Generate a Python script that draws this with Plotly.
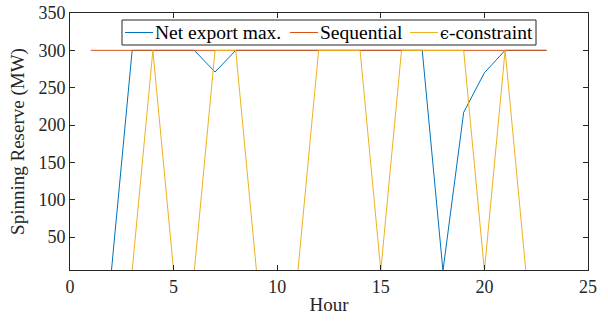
import plotly.graph_objects as go

hours = list(range(1, 24))
net_export_max = [5, 5, 300, 300, 300, 300, 271, 300, 300, 300, 300, 300,
                  300, 300, 300, 300, 300, 5, 217, 270, 300, 300, 300]
sequential = [300] * 23
eps_constraint = [5, 5, 5, 300, 5, 5, 300, 300, 5, 5, 5, 300,
                  300, 300, 5, 300, 300, 300, 300, 5, 300, 5, 5]

series_names = ["Net export max.", "Sequential",
                "<span style=\"font-family:'DejaVu Serif';font-size:16px\">ϵ</span>-constraint"]
series_colors = ["#0072BD", "#D95319", "#EDB120"]
series_values = [net_export_max, sequential, eps_constraint]

x_ticks = [0, 5, 10, 15, 20, 25]
y_ticks = [50, 100, 150, 200, 250, 300, 350]

FONT = "Liberation Serif, Times New Roman, serif"
AX = "#262626"

W, H = 608, 322
ML, MR, MT, MB = 70, 20, 13, 52
PW, PH = W - ML - MR, H - MT - MB


def px_x(p):
    return (p - ML) / PW


def px_y(p):
    return 1 - (p - MT) / PH


fig = go.Figure()
for name, color, vals in zip(series_names, series_colors, series_values):
    fig.add_trace(go.Scatter(x=hours, y=vals, mode="lines", name=name,
                             showlegend=False,
                             line=dict(color=color, width=1)))

# legend box drawn manually (matches the compact MATLAB legend)
leg_left, leg_right, leg_top, leg_bot = 122, 536, 20, 45
leg_mid = 32.5
fig.add_shape(type="rect", xref="paper", yref="paper",
              x0=px_x(leg_left), x1=px_x(leg_right),
              y0=px_y(leg_bot), y1=px_y(leg_top),
              line=dict(color=AX, width=1), fillcolor="white", layer="above")
sample_starts = [125, 290, 410]
sample_len = 28
for s, name, color in zip(sample_starts, series_names, series_colors):
    fig.add_shape(type="line", xref="paper", yref="paper",
                  x0=px_x(s), x1=px_x(s + sample_len),
                  y0=px_y(leg_mid), y1=px_y(leg_mid),
                  line=dict(color=color, width=1), layer="above")
    fig.add_annotation(xref="paper", yref="paper", x=px_x(s + sample_len),
                       y=px_y(leg_mid), xanchor="left", yanchor="middle",
                       text=name, showarrow=False,
                       font=dict(family=FONT, size=19.5, color="black"))

axis_common = dict(showgrid=False, zeroline=False, showline=True, linecolor=AX,
                   linewidth=1, mirror="allticks", ticks="inside", ticklen=5,
                   tickcolor=AX, tickwidth=1, automargin=False,
                   tickfont=dict(family=FONT, size=18, color="#262626"))

fig.update_layout(
    width=W, height=H,
    margin=dict(l=ML, r=MR, t=MT, b=MB),
    paper_bgcolor="white", plot_bgcolor="white",
    font=dict(family=FONT, size=19, color="#262626"),
    showlegend=False,
    xaxis=dict(range=[0, 25], tickvals=x_ticks,
               title=dict(text="Hour", font=dict(family=FONT, size=19), standoff=2),
               **axis_common),
    yaxis=dict(range=[6, 350], tickvals=y_ticks,
               title=dict(text="Spinning Reserve (MW)", font=dict(family=FONT, size=19),
                          standoff=8),
               **axis_common),
)

fig.write_html("out.html", config={"displayModeBar": False},
               post_script="document.body.style.margin='0';document.body.style.padding='0';")
